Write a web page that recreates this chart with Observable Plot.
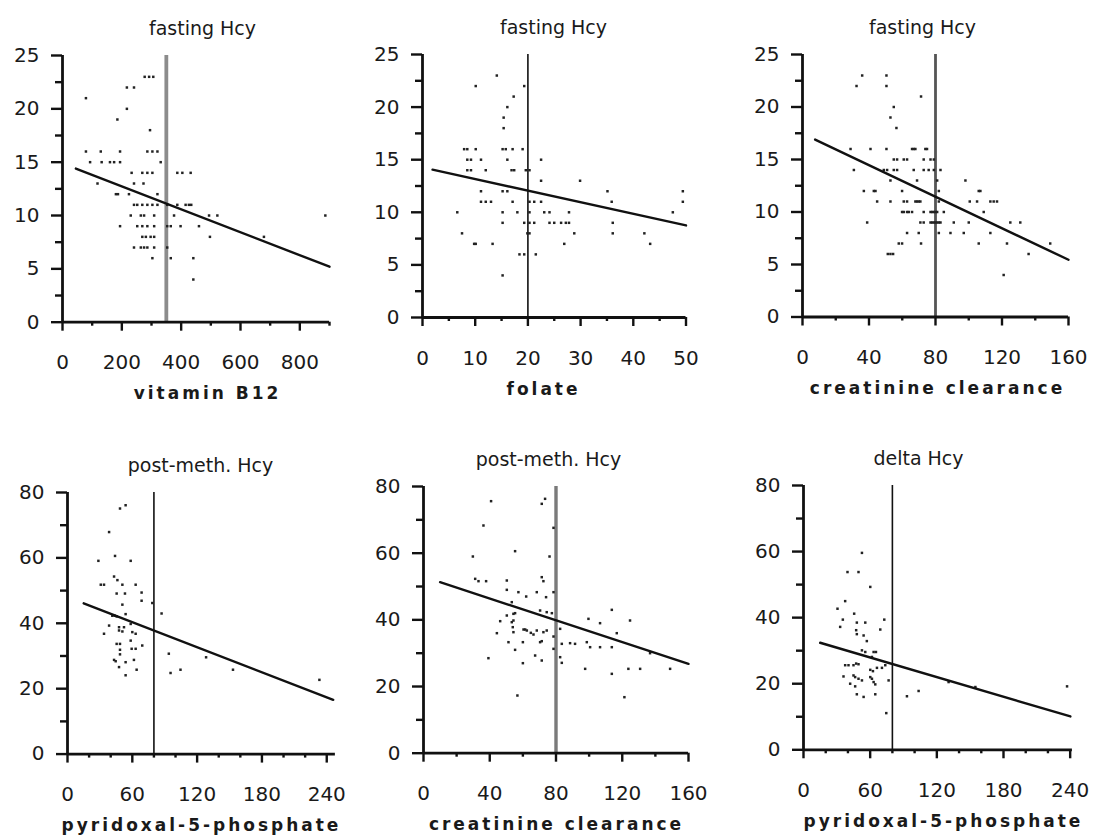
<!DOCTYPE html>
<html>
<head>
<meta charset="utf-8">
<script src="https://cdn.jsdelivr.net/npm/d3@7"></script>
<script src="https://cdn.jsdelivr.net/npm/@observablehq/plot@0.6"></script>
<style>
  html, body { margin: 0; padding: 0; background: #fff; overflow: hidden; }
  #root { position: relative; width: 1096px; height: 837px; overflow: hidden; background: #fff; }
  .panel { position: absolute; }
  .panel svg { overflow: visible; }
</style>
</head>
<body>
<div id="root"></div>
<script>
// ---------- DATA ----------
// Panel 1: fasting Hcy vs vitamin B12
const b12 = [79, 217, 241, 277, 292, 306, 217, 185, 295,
  79, 129, 194, 286, 303, 320,
  93, 132, 160, 174, 194, 331,
  233, 269, 286, 303, 387, 404, 432,
  118, 241, 273,
  180, 187, 224, 320,
  241, 252, 269, 286, 303, 320, 353, 387, 415, 426, 434,
  230, 264, 275, 309, 376, 494, 522,
  194, 252, 269, 286, 309, 353, 365, 398, 460,
  269, 281, 297, 309, 497, 679,
  241, 264, 275, 286, 309, 353,
  303, 365, 441,
  441,
  886];
const hcyB12 = [21, 22, 22, 23, 23, 23, 20, 19, 18,
  16, 16, 16, 16, 16, 16,
  15, 15, 15, 15, 15, 15,
  14, 14, 14, 14, 14, 14, 14,
  13, 13, 13,
  12, 12, 12, 12,
  11, 11, 11, 11, 11, 11, 11, 11, 11, 11, 11,
  10, 10, 10, 10, 10, 10, 10,
  9, 9, 9, 9, 9, 9, 9, 9, 9,
  8, 8, 8, 8, 8, 8,
  7, 7, 7, 7, 7, 7,
  6, 6, 6,
  4,
  10];
const regB12X = [45, 900], regB12Y = [14.4, 5.2];

// Panel 2: fasting Hcy vs folate
const folate = [14.1, 10.1, 19.3, 17.3, 16.1, 15.4, 15.4,
  7.9, 8.5, 10.1, 15.2, 15.8, 17.1, 19,
  8.5, 9.2, 11.1, 16.1, 22.5,
  8.5, 9.2, 12, 16.9, 17.4, 19.6, 20.3,
  22.5, 29.9,
  11.1, 15.2, 16.1, 35.1, 49.4,
  11.1, 12, 13, 17.1, 20.3, 21.2, 22.5, 35.9, 49.4,
  6.6, 15.2, 18, 20.3, 23.1, 24.1, 27.8, 47.5,
  15.2, 19.3, 20.3, 21.2, 24.1, 25, 26.3, 27.2, 27.8, 36.1,
  7.5, 19.9, 20.3, 28.8, 36.1, 42.1,
  9.8, 10.1, 13.3, 26.9, 43.2,
  18.4, 19.3, 21.5,
  15.2];
const hcyFol = [23, 22, 22, 21, 20, 19, 18,
  16, 16, 16, 16, 16, 16, 16,
  15, 15, 15, 15, 15,
  14, 14, 14, 14, 14, 14, 14,
  13, 13,
  12, 12, 12, 12, 12,
  11, 11, 11, 11, 11, 11, 11, 11, 11,
  10, 10, 10, 10, 10, 10, 10, 10,
  9, 9, 9, 9, 9, 9, 9, 9, 9, 9,
  8, 8, 8, 8, 8, 8,
  7, 7, 7, 7, 7,
  6, 6, 6,
  4];
const regFolX = [1.9, 50], regFolY = [14.05, 8.75];

// Panel 3: fasting Hcy vs creatinine clearance
const ccrF = [35.9, 50.5, 32.5, 50.5, 71.3, 54.9, 52.9, 56.5,
  28.9, 40.9, 50.5, 65.9, 66.9, 67.9, 73.9, 74.9,
  54.9, 56.9, 60.9, 62.9, 72.9, 77, 79,
  30.9, 48.9, 50.9, 54.9, 56.9, 66.9, 72.9, 75.9, 79, 83,
  52.9, 68.9, 81, 98,
  36.9, 42.9, 43.9, 59.9, 82, 106, 107,
  44.9, 52.9, 60.9, 62.9, 67.9, 68.9, 69.9, 70.9, 82, 100.6, 105, 113, 115, 117,
  59.9, 60.9, 62.9, 63.9, 65.9, 72.9, 77, 78, 79, 80, 81, 85, 109,
  38.9, 70.9, 72.9, 77, 78, 79, 80, 81, 82, 83, 91, 100, 125, 131,
  62.9, 69.9, 82, 89, 97, 113,
  57.9, 59.9, 71.3, 106, 123, 149,
  51.3, 52.9, 54.5, 136,
  121];
const hcyCcr = [23, 23, 22, 22, 21, 20, 19, 18,
  16, 16, 16, 16, 16, 16, 16, 16,
  15, 15, 15, 15, 15, 15, 15,
  14, 14, 14, 14, 14, 14, 14, 14, 14, 14,
  13, 13, 13, 13,
  12, 12, 12, 12, 12, 12, 12,
  11, 11, 11, 11, 11, 11, 11, 11, 11, 11, 11, 11, 11, 11,
  10, 10, 10, 10, 10, 10, 10, 10, 10, 10, 10, 10, 10,
  9, 9, 9, 9, 9, 9, 9, 9, 9, 9, 9, 9, 9, 9,
  8, 8, 8, 8, 8, 8,
  7, 7, 7, 7, 7, 7,
  6, 6, 6, 6,
  4];
const regCcrFX = [7.6, 160], regCcrFY = [16.9, 5.45];

// Panel 4: post-methionine Hcy vs pyridoxal-5-phosphate
const plpPost = [48.6, 53.8, 38.5, 44, 28.6, 58.5, 30.8, 33.8, 46.2, 43.1, 50.8, 63.1, 45.5, 53.2, 68.6, 68.6,
  78.5, 87.1, 50.8, 41.5, 43.7, 45.5, 53.8, 38.5, 47.7, 52.3, 58.5, 33.8, 47.7, 50.8, 60, 63.1,
  45.5, 48.6, 58.5, 69.2, 48.6, 59.4, 63.1, 48.6, 43.1, 44.6, 61.5, 53.8, 47.7, 64, 53.8,
  93.8, 95.4, 104.6, 128.3, 153.2, 233.2];
const hcyPostPlp = [75.1, 76.1, 67.9, 60.6, 59.1, 59.1, 51.8, 51.8, 53.2, 54.3, 51.8, 51.8, 49.1, 49.1, 49.4, 46.9,
  46.2, 43, 45.7, 42.3, 42.3, 42.1, 42.8, 39.3, 38.8, 38.8, 39.8, 36.8, 37.8, 37.5, 37.3, 36.8,
  33.7, 33.7, 34.7, 33.2, 31.9, 32.2, 32.2, 30.5, 28.8, 28.4, 28.8, 28.1, 26.6, 25.8, 24.1,
  30.7, 24.8, 25.8, 29.6, 25.8, 22.7];
const regPlpPostX = [15, 246], regPlpPostY = [46.1, 16.6];

// Panel 5: post-methionine Hcy vs creatinine clearance
const ccrPost = [40.8, 71.4, 73.4, 36.2, 78.5, 55.3, 29.8, 76.1, 31.2, 33.2, 37.8, 50.3, 50.3, 71.4, 72.4,
  57.3, 62, 68.4, 78.5, 74, 53.3, 70.4, 74.4, 77.5, 50.3, 54.3, 55.3, 46.3, 53.3, 54.3,
  44.3, 53.9, 54.3, 60.4, 61.4, 62.4, 64.8, 66.4, 68.4, 72.4, 74.4, 78.5, 82.5,
  51.3, 60, 70.4, 71.4, 83.5, 88.5, 91.5, 98.6, 100.6, 106.6, 113.7, 99.6, 106.6, 113.7, 116.7, 124.7,
  55.3, 67.4, 71.4, 60, 39.2, 78.5, 82.5, 83.5, 97.6, 113.7, 123.7, 130.8, 136.8, 148.9, 121.3, 56.7];
const hcyPostCcr = [75.6, 74.8, 76.3, 68.3, 67.6, 60.6, 59, 59, 52.3, 51.6, 51.6, 51.8, 49, 52.8, 51.6,
  48.3, 47, 48.3, 48.3, 46.8, 45.3, 42.8, 42.3, 42, 41.3, 41.8, 42, 39.6, 39.3, 39.8,
  36, 37.8, 36.3, 37.1, 37.1, 36.8, 36.1, 35.6, 36.8, 36.3, 36.8, 35, 37.3,
  33.3, 33.3, 33.3, 33.6, 32.8, 33, 32.8, 33.3, 31.8, 31.8, 31.8, 40.3, 39, 43, 36, 39.8,
  31, 29.3, 27.8, 27, 28.5, 31.3, 28.8, 27.1, 25.3, 23.8, 25.3, 25.3, 30, 25.3, 16.8, 17.3];
const regCcrPostX = [10, 160], regCcrPostY = [51.3, 26.8];

// Panel 6: delta Hcy vs pyridoxal-5-phosphate
const plpDelta = [52.6, 39.6, 49.5, 60.1, 37.5, 30.6, 45.6, 35.4, 72.7, 33, 48, 55.6, 69.1, 47.4, 48, 54.1, 57,
  52.6, 55.6, 63.1, 65.2, 61.6, 37.5, 40.5, 45, 47.4, 49.5, 60.1, 62.5, 66.1, 70.6, 73.6,
  36, 45, 46.5, 49.5, 52.6, 60.1, 61.6, 63.1, 64.6, 42, 46.5, 48, 54.1, 64.6, 76.6, 74.5,
  93.1, 103.6, 130.6, 154.7, 237.2];
const hcyDelta = [59.6, 53.8, 53.8, 49.3, 45, 42.7, 41.2, 39.4, 39.4, 37.2, 38.5, 38.5, 36.4, 36.2, 35, 34.6, 32.9,
  30.1, 29.6, 29.6, 29.6, 28.1, 25.6, 25.6, 25.6, 26.1, 25.9, 24.2, 23.8, 24.8, 24.8, 25.6,
  22.2, 22.5, 22, 21.5, 21, 22, 21.5, 20.5, 19.8, 20, 19.2, 16.8, 16, 16.8, 21, 11.1,
  16.2, 17.8, 20.5, 19, 19.2];
const regPlpDeltaX = [15, 240.2], regPlpDeltaY = [32.4, 10.1];

// Texts and tick values
const titles = ["fasting Hcy", "fasting Hcy", "fasting Hcy", "post-meth. Hcy", "post-meth. Hcy", "delta Hcy"];
const xLabels = ["vitamin B12", "folate", "creatinine clearance", "pyridoxal-5-phosphate", "creatinine clearance", "pyridoxal-5-phosphate"];
const cutoffs = [350, 20, 80, 80, 80, 80];
const yTicksTop = [0, 5, 10, 15, 20, 25], yMinorTop = [2.5, 7.5, 12.5, 17.5, 22.5];
const yTicksBottom = [0, 20, 40, 60, 80], yMinorBottom = [10, 30, 50, 70];
const xTicksB12 = [0, 200, 400, 600, 800], xMinorB12 = [100, 300, 500, 700, 900];
const xTicksFol = [0, 10, 20, 30, 40, 50], xMinorFol = [5, 15, 25, 35, 45];
const xTicksCcr = [0, 40, 80, 120, 160], xMinorCcr = [20, 60, 100, 140];
const xTicksPlp = [0, 60, 120, 180, 240], xMinorPlp = [20, 40, 80, 100, 140, 160, 200, 220];

// ---------- LAYOUT (pixel geometry of each plot frame) ----------
const ML = 60, MR = 16, MT = 45, MB = 90;
const layout = [
  {L: 62,    R: 329,    T: 55,    B: 321.7, xDom: [0, 900], yDom: [0, 25], tDx: 140, lDx: 145, vStroke: "#8c8c8c", vW: 3.8},
  {L: 421.5, R: 685,    T: 53.7,  B: 316.7, xDom: [0, 50],  yDom: [0, 25], tDx: 131, lDx: 121, vStroke: "#111", vW: 1.6},
  {L: 802,   R: 1068,   T: 53.5,  B: 316,   xDom: [0, 160], yDom: [0, 25], tDx: 120, lDx: 135, vStroke: "#555", vW: 2.8},
  {L: 66.7,  R: 334.6,  T: 491.7, B: 753.3, xDom: [0, 248], yDom: [0, 80], tDx: 133, lDx: 134, vStroke: "#111", vW: 1.6},
  {L: 423.3, R: 688.3,  T: 486,   B: 752.7, xDom: [0, 160], yDom: [0, 80], tDx: 125, lDx: 133, vStroke: "#7a7a7a", vW: 3.4},
  {L: 802.7, R: 1071.6, T: 485,   B: 749.3, xDom: [0, 242], yDom: [0, 80], tDx: 115, lDx: 140, vStroke: "#111", vW: 1.6}
];

const series = [
  {xs: b12, ys: hcyB12, rx: regB12X, ry: regB12Y, xt: xTicksB12, xm: xMinorB12, yt: yTicksTop, ym: yMinorTop},
  {xs: folate, ys: hcyFol, rx: regFolX, ry: regFolY, xt: xTicksFol, xm: xMinorFol, yt: yTicksTop, ym: yMinorTop},
  {xs: ccrF, ys: hcyCcr, rx: regCcrFX, ry: regCcrFY, xt: xTicksCcr, xm: xMinorCcr, yt: yTicksTop, ym: yMinorTop},
  {xs: plpPost, ys: hcyPostPlp, rx: regPlpPostX, ry: regPlpPostY, xt: xTicksPlp, xm: xMinorPlp, yt: yTicksBottom, ym: yMinorBottom},
  {xs: ccrPost, ys: hcyPostCcr, rx: regCcrPostX, ry: regCcrPostY, xt: xTicksCcr, xm: xMinorCcr, yt: yTicksBottom, ym: yMinorBottom},
  {xs: plpDelta, ys: hcyDelta, rx: regPlpDeltaX, ry: regPlpDeltaY, xt: xTicksPlp, xm: xMinorPlp, yt: yTicksBottom, ym: yMinorBottom}
];

const root = document.getElementById("root");
const FONT = "'DejaVu Sans', Verdana, 'Noto Sans', sans-serif";

series.forEach((s, i) => {
  const g = layout[i];
  const pts = s.xs.map((x, j) => ({x, y: s.ys[j]}));
  const reg = s.rx.map((x, j) => ({x, y: s.ry[j]}));
  const xmax = g.xDom[1], ymax = g.yDom[1];
  const svg = Plot.plot({
    width: g.R - g.L + ML + MR,
    height: g.B - g.T + MT + MB,
    marginLeft: ML, marginRight: MR, marginTop: MT, marginBottom: MB,
    x: {domain: g.xDom},
    y: {domain: g.yDom},
    style: {fontFamily: FONT, fontSize: "20px", color: "#111", background: "transparent", overflow: "visible"},
    marks: [
      Plot.ruleX([cutoffs[i]], {y1: 0, y2: ymax, stroke: g.vStroke, strokeWidth: g.vW}),
      Plot.ruleX([0], {y1: 0, y2: ymax, stroke: "#111", strokeWidth: 2.8}),
      Plot.ruleY([0], {x1: 0, x2: xmax, stroke: "#111", strokeWidth: 2.8}),
      Plot.axisY(s.yt, {tickSize: 11, tickPadding: 12, strokeWidth: 2.4, stroke: "#111", label: null, fontSize: 20, fill: "#1a1a1a"}),
      Plot.axisY(s.ym, {tickSize: 7, strokeWidth: 2.4, stroke: "#111", fill: "none", label: null}),
      Plot.axisX(s.xt, {tickSize: 9, tickPadding: 24, strokeWidth: 2.4, stroke: "#111", label: null, fontSize: 20, fill: "#1a1a1a"}),
      Plot.axisX(s.xm, {tickSize: 4, strokeWidth: 2.4, stroke: "#111", fill: "none", label: null}),
      Plot.dot(pts, {x: "x", y: "y", symbol: "square", r: 1.4, fill: "#222", stroke: "none"}),
      Plot.line(reg, {x: "x", y: "y", stroke: "#111", strokeWidth: 2.4}),
      Plot.text([titles[i]], {text: d => d, frameAnchor: "top-left", dx: g.tDx, dy: -34, textAnchor: "middle", fontSize: 19, fill: "#1a1a1a"}),
      Plot.text([xLabels[i]], {text: d => d, frameAnchor: "bottom-left", dx: g.lDx, dy: 77, textAnchor: "middle", fontSize: 17, fontWeight: "bold", fill: "#1a1a1a"})
    ]
  });
  svg.querySelectorAll("text").forEach(t => {
    if (t.textContent === xLabels[i]) t.style.letterSpacing = "3px";
  });
  const div = document.createElement("div");
  div.className = "panel";
  div.style.left = (g.L - ML) + "px";
  div.style.top = (g.T - MT) + "px";
  div.appendChild(svg);
  root.appendChild(div);
});
</script>
</body>
</html>
